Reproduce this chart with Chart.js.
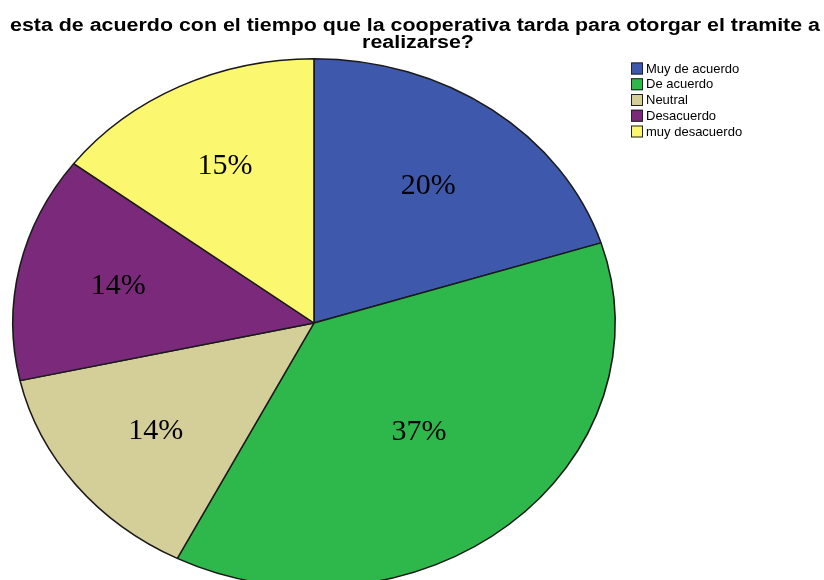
<!DOCTYPE html>
<html>
<head>
<meta charset="utf-8">
<script src="https://cdn.jsdelivr.net/npm/chart.js@4/dist/chart.umd.min.js"></script>
<style>
html,body{margin:0;padding:0;background:#fff;overflow:hidden;}
#wrap{position:relative;width:824px;height:580px;overflow:hidden;}
canvas{display:block;}
</style>
</head>
<body>
<div id="wrap"><canvas id="c" width="824" height="600"></canvas></div>
<script>
const titleLines = ["esta de acuerdo con el tiempo que la cooperativa tarda para otorgar el tramite a", "realizarse?"];
const categories = ["Muy de acuerdo", "De acuerdo", "Neutral", "Desacuerdo", "muy desacuerdo"];
const percentages = [20.1, 37.4, 14.0, 13.8, 14.7];
const sliceColors = ["#3E58AB", "#2EB84B", "#D4CE99", "#7B2A7B", "#FBF76F"];

const X_STRETCH = 302 / 265;

const ellipsePlugin = {
  id: 'ellipse',
  beforeDatasetsDraw(chart) {
    const arc = chart.getDatasetMeta(0).data[0];
    const ctx = chart.ctx;
    ctx.save();
    ctx.translate(arc.x, arc.y);
    ctx.scale(X_STRETCH, 1);
    ctx.translate(-arc.x, -arc.y);
  },
  afterDatasetsDraw(chart) {
    const ctx = chart.ctx;
    ctx.restore();
    // percentage labels at (slightly pushed) slice centroids
    const meta = chart.getDatasetMeta(0);
    ctx.save();
    ctx.fillStyle = '#000';
    ctx.font = '30px "Liberation Serif", "Times New Roman", serif';
    ctx.textAlign = 'center';
    ctx.textBaseline = 'middle';
    meta.data.forEach((a, i) => {
      const theta = a.endAngle - a.startAngle;
      const mid = (a.startAngle + a.endAngle) / 2;
      const c = 2 * Math.sin(theta / 2) / (1.5 * theta);
      const r = a.outerRadius * c * 1.03;
      const x = a.x + Math.cos(mid) * r * X_STRETCH;
      const y = a.y + Math.sin(mid) * r;
      ctx.fillText(Math.round(percentages[i]) + '%', x, y);
    });
    ctx.restore();
  },
  afterDraw(chart) {
    const ctx = chart.ctx;
    // title
    ctx.save();
    ctx.fillStyle = '#000';
    ctx.font = 'bold 18px "Liberation Sans", Arial, sans-serif';
    ctx.textAlign = 'left';
    ctx.textBaseline = 'alphabetic';
    const w0 = ctx.measureText(titleLines[0]).width;
    const sx = 810 / w0;
    const baselines = [31, 48];
    const centers = [415, 418];
    titleLines.forEach((t, i) => {
      const w = ctx.measureText(t).width * sx;
      ctx.save();
      ctx.translate(centers[i] - w / 2, baselines[i]);
      ctx.scale(sx, 1);
      ctx.fillText(t, 0, 0);
      ctx.restore();
    });
    ctx.restore();
    // legend
    ctx.save();
    ctx.font = '13px "Liberation Sans", Arial, sans-serif';
    ctx.textBaseline = 'middle';
    ctx.textAlign = 'left';
    categories.forEach((c, i) => {
      const y = 68.5 + i * 15.75;
      ctx.fillStyle = sliceColors[i];
      ctx.fillRect(631, y - 6, 12, 12);
      ctx.strokeStyle = '#222';
      ctx.lineWidth = 1;
      ctx.strokeRect(631.5, y - 5.5, 11, 11);
      ctx.fillStyle = '#000';
      ctx.fillText(c, 646, y + 0.5);
    });
    ctx.restore();
  }
};

new Chart(document.getElementById('c'), {
  type: 'pie',
  data: {
    labels: categories,
    datasets: [{
      data: percentages,
      backgroundColor: sliceColors,
      borderColor: '#1a1a1a',
      borderWidth: 1.4,
      clip: false
    }]
  },
  options: {
    responsive: false,
    animation: false,
    events: [],
    layout: { padding: { left: 49, right: 245, top: 58, bottom: 12 } },
    plugins: {
      legend: { display: false },
      title: { display: false },
      tooltip: { enabled: false }
    }
  },
  plugins: [ellipsePlugin]
});
</script>
</body>
</html>
